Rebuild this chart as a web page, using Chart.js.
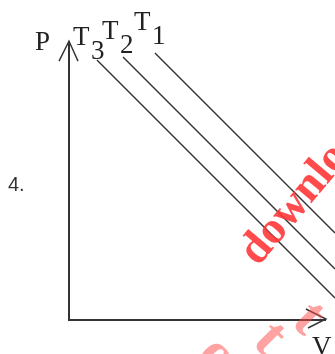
<!DOCTYPE html>
<html>
<head>
<meta charset="utf-8">
<script src="https://cdn.jsdelivr.net/npm/chart.js@4/dist/chart.umd.min.js"></script>
<style>
  html, body { margin: 0; padding: 0; background: #fff; }
  #wrap { width: 335px; height: 354px; position: relative; overflow: hidden; }
</style>
</head>
<body>
<div id="wrap"><canvas id="pv" width="335" height="354"></canvas></div>
<script>
// isotherm labels and their end points (V, P)
const isotherms = ["T1", "T2", "T3"];
const volumes = {
  T1: [3.23, 10],
  T2: [2.03, 10],
  T3: [1.05, 10]
};
const pressures = {
  T1: [9.54, 3.11],
  T2: [9.39, 1.82],
  T3: [9.29, 0.79]
};
// axis lengths (arrow tips) in data units
const axisV = [0, 9.66];
const axisP = [0, 9.96];
const axisLabels = ["P", "V"];

const ink = "#333";

// MODULE: axes, arrows and labels
const decor = {
  id: "decor",
  afterDatasetsDraw(chart) {
    const { ctx, scales: { x, y } } = chart;
    const x0 = x.getPixelForValue(axisV[0]);
    const y0 = y.getPixelForValue(axisP[0]);
    const xTip = x.getPixelForValue(axisV[1]);
    const yTip = y.getPixelForValue(axisP[1]);

    ctx.save();
    ctx.strokeStyle = ink;
    ctx.lineWidth = 2;
    ctx.beginPath();
    ctx.moveTo(x0, yTip);
    ctx.lineTo(x0, y0);
    ctx.lineTo(xTip, y0);
    ctx.stroke();

    // arrow heads
    ctx.lineWidth = 1.4;
    ctx.beginPath();
    ctx.moveTo(x0 - 10, yTip + 20);
    ctx.lineTo(x0, yTip);
    ctx.lineTo(x0 + 9, yTip + 20);
    ctx.moveTo(xTip - 20, y0 - 11);
    ctx.lineTo(xTip, y0 - 1);
    ctx.lineTo(xTip - 18, y0 + 8);
    ctx.stroke();

    // serif labels
    ctx.fillStyle = "#222";
    ctx.font = "27px 'Liberation Serif', serif";
    ctx.fillText(axisLabels[0], 35, 50);
    ctx.fillText(axisLabels[1], 312, 355);
    const tPos = { T3: [73, 45], T2: [102, 39], T1: [134, 30] };
    isotherms.forEach(t => {
      const [tx, ty] = tPos[t];
      ctx.fillText("T", tx, ty);
      ctx.fillText(t.slice(1), tx + 18, ty + 14);
    });

    // question number
    ctx.fillStyle = "#333";
    ctx.font = "20px 'Liberation Sans', Arial, sans-serif";
    ctx.fillText("4.", 8, 191);

    // watermark
    ctx.translate(258, 267);
    ctx.rotate(-50 * Math.PI / 180);
    ctx.fillStyle = "rgba(255, 55, 55, 0.9)";
    ctx.font = "bold 46px 'Liberation Serif', serif";
    ctx.fillText("download", 0, 0);
    ctx.restore();

    // faint second watermark line, mostly below the picture
    ctx.save();
    ctx.fillStyle = "rgba(255, 70, 70, 0.5)";
    ctx.font = "bold 60px 'Liberation Serif', serif";
    ctx.textAlign = "center";
    [["o", 205, 368], ["t", 258, 350], ["t", 297, 330]].forEach(([ch, gx, gy]) => {
      ctx.save();
      ctx.translate(gx, gy);
      ctx.rotate(45 * Math.PI / 180);
      ctx.fillText(ch, 0, 0);
      ctx.restore();
    });
    ctx.restore();
  }
};

new Chart(document.getElementById("pv"), {
  type: "scatter",
  data: {
    datasets: isotherms.map(t => ({
      label: t,
      data: volumes[t].map((v, i) => ({ x: v, y: pressures[t][i] })),
      showLine: true,
      borderColor: ink,
      borderWidth: 1.4,
      pointRadius: 0,
      tension: 0,
      clip: false
    }))
  },
  options: {
    responsive: false,
    animation: false,
    events: [],
    layout: { padding: { left: 69, top: 40, right: 0, bottom: 34 } },
    plugins: { legend: { display: false }, tooltip: { enabled: false } },
    scales: {
      x: { type: "linear", min: 0, max: 10, display: false },
      y: { type: "linear", min: 0, max: 10, display: false }
    }
  },
  plugins: [decor]
});
</script>
</body>
</html>
